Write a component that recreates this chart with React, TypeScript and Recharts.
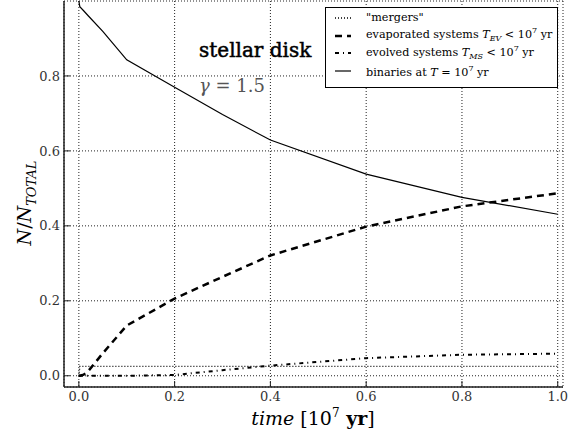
import { LineChart, Line, XAxis, YAxis, CartesianGrid, Legend } from 'recharts'

// time in units of 10^7 yr
const time = [0, 0.002, 0.01, 0.02, 0.05, 0.1, 0.2, 0.3, 0.4, 0.6, 0.8, 1.0]
const mergers = [0, 0.025, 0.025, 0.025, 0.025, 0.025, 0.025, 0.025, 0.025, 0.025, 0.025, 0.025]
const evaporated = [0, 0, 0.003, 0.013, 0.06, 0.134, 0.206, 0.264, 0.321, 0.398, 0.452, 0.487]
const evolved = [0, 0, 0, 0, 0, 0, 0.002, 0.015, 0.027, 0.047, 0.056, 0.059]
const binaries = [1.0, 0.985, 0.974, 0.96, 0.919, 0.843, 0.77, 0.697, 0.629, 0.538, 0.476, 0.431]

const xTicks = [0, 0.2, 0.4, 0.6, 0.8, 1.0]
const yTicks = [0, 0.2, 0.4, 0.6, 0.8]

const data = time.map((t, i) => ({
  t,
  mergers: mergers[i],
  evaporated: evaporated[i],
  evolved: evolved[i],
  binaries: binaries[i],
}))

const SERIF = '"DejaVu Serif", "Liberation Serif", serif'
const AXIS = '#222'

const styles: Record<string, { dash?: string; width: number }> = {
  mergers: { dash: '1 2', width: 1.4 },
  evaporated: { dash: '7 5', width: 2.5 },
  evolved: { dash: '4 4 1 4', width: 2 },
  binaries: { width: 1.2 },
}

const sub = { fontSize: 8, fontStyle: 'italic' as const }
const sup = { fontSize: 8 }

const labels: Record<string, JSX.Element> = {
  mergers: <span>"mergers"</span>,
  evaporated: (
    <span>
      evaporated systems <i>T</i><sub style={sub}>EV</sub> &lt; 10<sup style={sup}>7</sup> yr
    </span>
  ),
  evolved: (
    <span>
      evolved systems <i>T</i><sub style={sub}>MS</sub> &lt; 10<sup style={sup}>7</sup> yr
    </span>
  ),
  binaries: (
    <span>
      binaries at <i>T</i> = 10<sup style={sup}>7</sup> yr
    </span>
  ),
}

const legendOrder = ['mergers', 'evaporated', 'evolved', 'binaries']

function LegendBox() {
  return (
    <div
      style={{
        width: 231,
        height: 78,
        border: '1px solid #000',
        background: '#fff',
        fontFamily: SERIF,
        fontSize: 11.2,
        lineHeight: '17.7px',
        padding: '1px 0 0 0',
        boxSizing: 'content-box',
      }}
    >
      {legendOrder.map(k => (
        <div key={k} style={{ display: 'flex', alignItems: 'center', height: 17.7 }}>
          <svg width={40} height={10} style={{ flex: 'none' }}>
            <line x1={9} x2={25} y1={5} y2={5} stroke="#000" strokeWidth={styles[k].width} strokeDasharray={styles[k].dash} />
          </svg>
          <span style={{ whiteSpace: 'nowrap' }}>{labels[k]}</span>
        </div>
      ))}
    </div>
  )
}

const tickStyle = { fontSize: 13, fill: '#333', fontFamily: SERIF }

export default function App() {
  return (
    <div style={{ position: 'absolute', left: 0, top: 0, width: 588, height: 434, background: '#fff' }}>
      <LineChart width={588} height={434} data={data} margin={{ top: 1, right: 25, left: 0, bottom: 0 }}>
        <CartesianGrid stroke="#222" strokeDasharray="1 2" strokeWidth={1} />
        <XAxis
          dataKey="t"
          type="number"
          domain={[-0.031, 1.011]}
          allowDataOverflow
          ticks={xTicks}
          tickFormatter={v => v.toFixed(1)}
          tick={tickStyle}
          tickSize={-6}
          tickMargin={11}
          height={47}
          axisLine={{ stroke: AXIS, strokeWidth: 1.5 }}
          tickLine={{ stroke: AXIS }}
        />
        <XAxis
          xAxisId="top"
          orientation="top"
          dataKey="t"
          type="number"
          domain={[-0.031, 1.011]}
          allowDataOverflow
          ticks={xTicks}
          tick={false}
          tickSize={-6}
          height={0}
          axisLine={{ stroke: AXIS, strokeWidth: 1.5 }}
          tickLine={{ stroke: AXIS }}
        />
        <YAxis
          type="number"
          domain={[-0.03, 1.0]}
          allowDataOverflow
          ticks={yTicks}
          tickFormatter={v => v.toFixed(1)}
          tick={tickStyle}
          tickSize={-6}
          tickMargin={10}
          width={64}
          axisLine={{ stroke: AXIS, strokeWidth: 1.5 }}
          tickLine={{ stroke: AXIS }}
        />
        <YAxis
          yAxisId="right"
          orientation="right"
          type="number"
          domain={[-0.03, 1.0]}
          allowDataOverflow
          ticks={yTicks}
          tick={false}
          tickSize={-6}
          width={0}
          axisLine={{ stroke: AXIS, strokeWidth: 2 }}
          tickLine={{ stroke: AXIS }}
        />
        <Legend
          layout="vertical"
          align="center"
          verticalAlign="middle"
          wrapperStyle={{ position: 'absolute', left: 325, top: 7, width: 'auto' }}
          content={() => <LegendBox />}
        />
        {legendOrder.map(k => (
          <Line
            key={k}
            dataKey={k}
            type="linear"
            stroke="#000"
            strokeWidth={styles[k].width}
            strokeDasharray={styles[k].dash}
            dot={false}
            activeDot={false}
            isAnimationActive={false}
          />
        ))}
      </LineChart>
      <svg width={588} height={434} style={{ position: 'absolute', left: 0, top: 0, pointerEvents: 'none' }}>
        <text x={199} y={57} fontFamily={SERIF} fontSize={20} fill="#000" stroke="#000" strokeWidth={0.5}>stellar disk</text>
        <text x={199} y={92} fontFamily={SERIF} fontSize={18} fill="#555">
          <tspan fontStyle="italic">γ</tspan> = 1.5
        </text>
        <text x={313} y={425} fontFamily={SERIF} fontSize={19} textAnchor="middle" fill="#000">
          <tspan fontStyle="italic">time</tspan> [10<tspan fontSize={12} dy={-8}>7</tspan>
          <tspan dy={8} fontWeight="bold"> yr</tspan>]
        </text>
        <text
          transform="translate(31,203) rotate(-90)"
          fontFamily={SERIF}
          fontSize={19}
          textAnchor="middle"
          fill="#000"
        >
          <tspan fontStyle="italic">N</tspan>/<tspan fontStyle="italic">N</tspan>
          <tspan fontSize={13} fontStyle="italic" dy={5}>TOTAL</tspan>
        </text>
      </svg>
    </div>
  )
}
